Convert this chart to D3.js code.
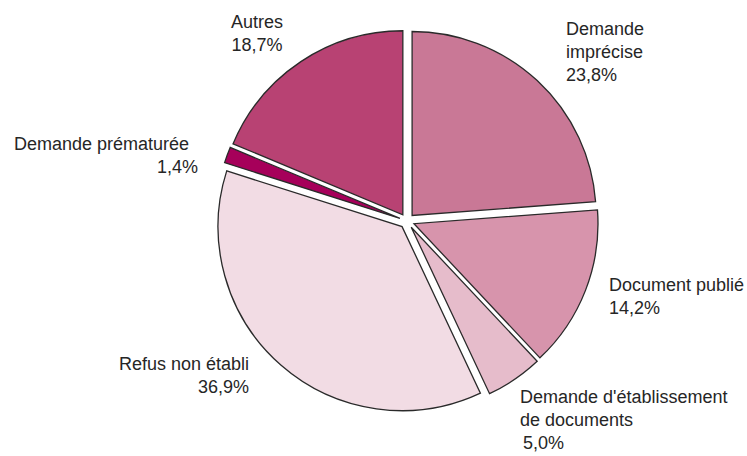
<!DOCTYPE html>
<html>
<head>
<meta charset="utf-8">
<script src="https://cdn.jsdelivr.net/npm/d3@7"></script>
<style>
  body { margin: 0; background: #fff; }
  text { font-family: "Liberation Sans", Arial, sans-serif; font-size: 18px; fill: #262626; }
</style>
</head>
<body>
<svg id="chart" width="747" height="456"></svg>
<script>
// slices, clockwise from 12 o'clock
var categories = ["Demande imprécise", "Document publié", "Demande d'établissement de documents",
                  "Refus non établi", "Demande prématurée", "Autres"];
var values = [23.8, 14.2, 5.0, 36.9, 1.4, 18.7];
var labelLines = [["Demande", "imprécise"], ["Document publié"], ["Demande d'établissement", "de documents"],
                  ["Refus non établi"], ["Demande prématurée"], ["Autres"]];
var colors = ["#c97896", "#d794ac", "#e6bccb", "#f2dce4", "#a6005a", "#b84273"];

var svg = d3.select("#chart");
var cx = 407, cy = 221, radius = 184, explode = 7.5;

var pie = d3.pie().sort(null).value(function(d){ return d; });
var arc = d3.arc().innerRadius(0).outerRadius(radius);
var arcs = pie(values);

var g = svg.append("g").attr("transform", "translate(" + cx + "," + cy + ")");

g.selectAll("path.slice")
    .data(arcs)
    .enter().append("path")
    .attr("class", "slice")
    .attr("d", arc)
    .attr("fill", function(d, i){ return colors[i]; })
    .attr("stroke", "#2a2a2a")
    .attr("stroke-width", 1.3)
    .attr("stroke-linejoin", "miter")
    .attr("transform", function(d){
        var a = (d.startAngle + d.endAngle) / 2;
        return "translate(" + (Math.sin(a) * explode) + "," + (-Math.cos(a) * explode) + ")";
    });

// label placement: [x, y of first line, anchor]
var labelPos = [
    [566, 35, "start"],
    [609, 291, "start"],
    [520, 403, "start"],
    [249, 370, "end"],
    [189, 150, "end"],
    [257, 28, "middle"]
];
var pctX = [566, 609, 523, 249, 198, 257];
var lineH = 23;
var fmt = d3.format(".1f");

arcs.forEach(function(d, i){
    var p = labelPos[i];
    var t = svg.append("g").attr("class", "label");
    labelLines[i].forEach(function(line, j){
        t.append("text")
            .attr("x", p[0])
            .attr("y", p[1] + j * lineH)
            .attr("text-anchor", p[2])
            .text(line);
    });
    t.append("text")
        .attr("x", pctX[i])
        .attr("y", p[1] + labelLines[i].length * lineH)
        .attr("text-anchor", p[2])
        .text(fmt(values[i]).replace(".", ",") + "%");
});
</script>
</body>
</html>
